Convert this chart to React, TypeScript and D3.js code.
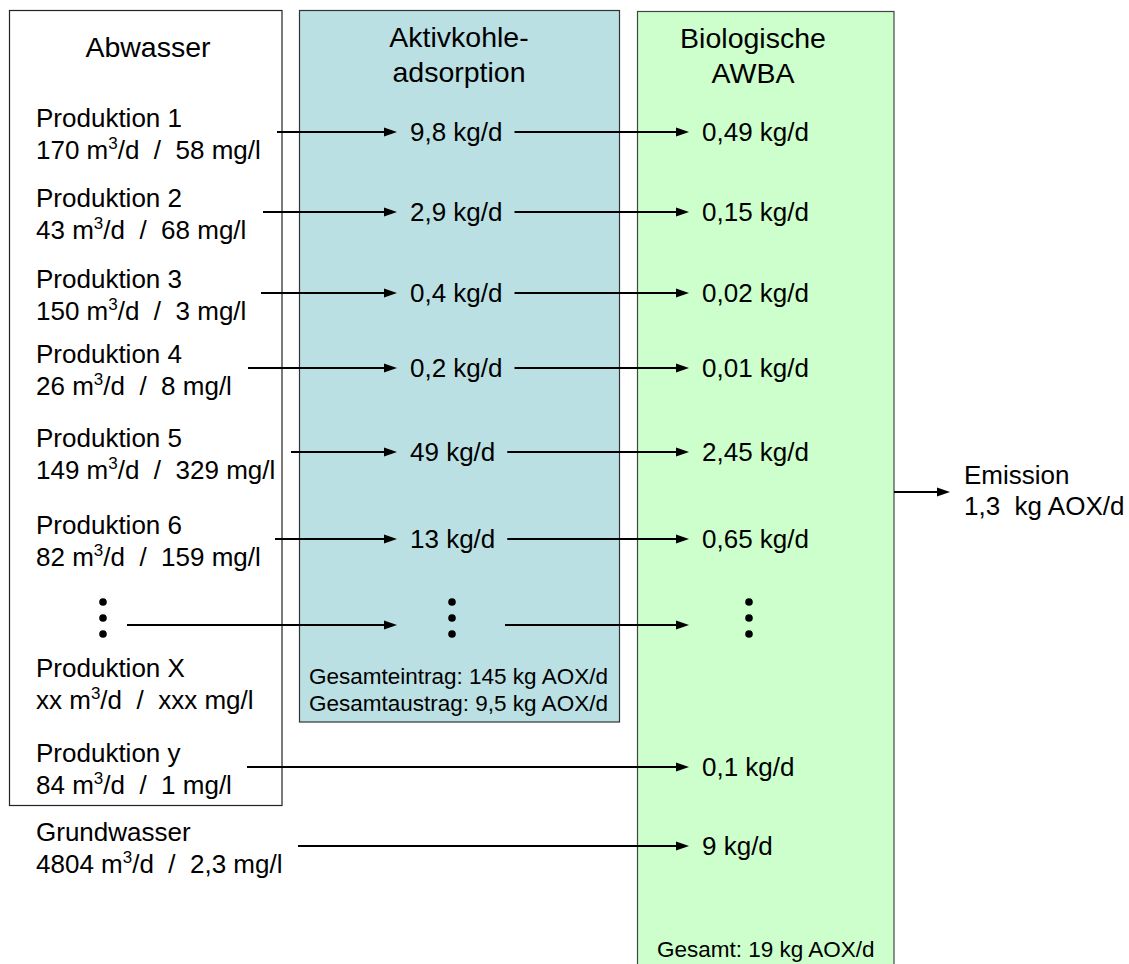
import { useEffect, useRef } from 'react'
import * as d3 from 'd3'

// source rows (index 6 is the "more rows" ellipsis line)
const sources = ['Produktion 1', 'Produktion 2', 'Produktion 3', 'Produktion 4', 'Produktion 5', 'Produktion 6', null, 'Produktion X', 'Produktion y', 'Grundwasser']
const volumes = ['170', '43', '150', '26', '149', '82', null, 'xx', '84', '4804'] // m³/d
const concentrations = ['58', '68', '3', '8', '329', '159', null, 'xxx', '1', '2,3'] // mg/l
const carbonLoads = ['9,8', '2,9', '0,4', '0,2', '49', '13', '…', null, null, null] // kg/d after Aktivkohle
const bioLoads = ['0,49', '0,15', '0,02', '0,01', '2,45', '0,65', '…', null, '0,1', '9'] // kg/d into AWBA

const columnTitles = [['Abwasser'], ['Aktivkohle-', 'adsorption'], ['Biologische', 'AWBA']]
const carbonTotals = ['Gesamteintrag: 145 kg AOX/d', 'Gesamtaustrag: 9,5 kg AOX/d']
const bioTotal = 'Gesamt: 19 kg AOX/d'
const emission = ['Emission', '1,3  kg AOX/d']

// layout of the drawing
const rowY = [132, 212, 293, 368, 452, 539, 625, 682, 767, 846]
const arrowStartX = [277, 263, 261, 248, 291, 275, 127, null, 247, 298]

const W = 1129
const H = 964
const FONT = '"Liberation Sans", Arial, sans-serif'

export default function App() {
  const ref = useRef<SVGSVGElement | null>(null)

  useEffect(() => {
    document.body.style.margin = '0'
    const svg = d3.select(ref.current)
    svg.selectAll('*').remove()
    svg.attr('width', W).attr('height', H).style('font-family', FONT).style('display', 'block')

    const g = svg.append('g')

    const boxes = [
      { x: 9.5, y: 10.5, w: 272.5, h: 795, fill: '#ffffff', stroke: '#222' },
      { x: 299.5, y: 10.5, w: 320, h: 711.5, fill: '#bbe0e3', stroke: '#333' },
      { x: 637.5, y: 11.5, w: 256.5, h: 980, fill: '#ccffcc', stroke: '#444' },
    ]
    g.selectAll('rect.box')
      .data(boxes)
      .enter()
      .append('rect')
      .attr('class', 'box')
      .attr('x', (d) => d.x)
      .attr('y', (d) => d.y)
      .attr('width', (d) => d.w)
      .attr('height', (d) => d.h)
      .attr('fill', (d) => d.fill)
      .attr('stroke', (d) => d.stroke)
      .attr('stroke-width', 1.2)

    // column titles
    const titleX = [148, 459, 753]
    const titleY = [[57], [47, 82], [48, 83]]
    columnTitles.forEach((lines, ci) => {
      lines.forEach((line, li) => {
        g.append('text')
          .attr('x', titleX[ci])
          .attr('y', titleY[ci][li])
          .attr('text-anchor', 'middle')
          .style('font-size', '28.5px')
          .attr('fill', '#000')
          .text(line)
      })
    })

    const arrow = (x1: number, x2: number, y: number) => {
      g.append('line')
        .attr('x1', x1)
        .attr('x2', x2 - 9)
        .attr('y1', y)
        .attr('y2', y)
        .attr('stroke', '#000')
        .attr('stroke-width', 2)
      g.append('path')
        .attr('d', `M${x2},${y} L${x2 - 13},${y - 4.5} L${x2 - 13},${y + 4.5} Z`)
        .attr('fill', '#000')
    }

    const dots = (cx: number, y: number) => {
      ;[-23, -7, 9].forEach((dy) => {
        g.append('circle').attr('cx', cx).attr('cy', y + dy).attr('r', 3.8).attr('fill', '#000')
      })
    }

    const midTip = 397
    const midTextX = 410
    const rightTip = 689
    const rightTextX = 702

    rowY.forEach((y, i) => {
      const src = sources[i]
      if (src) {
        g.append('text')
          .attr('x', 36)
          .attr('y', y - 5)
          .style('font-size', '26px')
          .text(src)
        const t = g.append('text').attr('x', 36).attr('y', y + 27).style('font-size', '26px').style('white-space', 'pre')
        t.append('tspan').text(`${volumes[i]} m`)
        t.append('tspan').attr('dy', -10).style('font-size', '17px').text('3')
        t.append('tspan').attr('dy', 10).text(`/d  /  ${concentrations[i]} mg/l`)
      } else {
        dots(103, y)
      }

      const start = arrowStartX[i]
      if (start == null) return
      const mid = carbonLoads[i]
      const bio = bioLoads[i]

      if (mid) {
        arrow(start, midTip, y)
        let midEnd: number
        if (mid === '…') {
          dots(452, y)
          midEnd = 505
        } else {
          const mt = g.append('text').attr('x', midTextX).attr('y', y + 9).style('font-size', '26px').text(`${mid} kg/d`)
          midEnd = midTextX + (mt.node() as SVGTextElement).getComputedTextLength() + 12
        }
        arrow(midEnd, rightTip, y)
      } else {
        arrow(start, rightTip, y)
      }

      if (bio === '…') {
        dots(749, y)
      } else if (bio) {
        g.append('text').attr('x', rightTextX).attr('y', y + 9).style('font-size', '26px').text(`${bio} kg/d`)
      }
    })

    // totals
    carbonTotals.forEach((line, i) => {
      g.append('text')
        .attr('x', 309)
        .attr('y', 684 + i * 27)
        .style('font-size', '22.5px')
        .text(line)
    })
    g.append('text').attr('x', 657).attr('y', 957).style('font-size', '22.5px').text(bioTotal)

    // emission
    arrow(894, 950, 492)
    emission.forEach((line, i) => {
      g.append('text')
        .attr('x', 964)
        .attr('y', 484 + i * 31)
        .style('font-size', '26px')
        .style('white-space', 'pre')
        .text(line)
    })
  }, [])

  return <svg ref={ref} />
}
